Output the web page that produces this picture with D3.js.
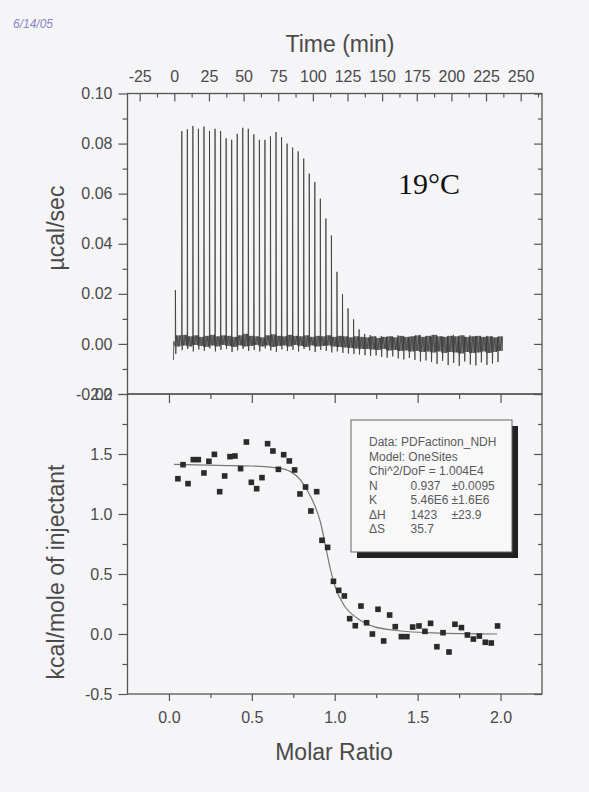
<!DOCTYPE html>
<html>
<head>
<meta charset="utf-8">
<script src="https://cdn.jsdelivr.net/npm/d3@7"></script>
<style>
  body { margin: 0; background: #f5f5f7; }
  svg { display: block; font-family: "Liberation Sans", Arial, sans-serif; }
</style>
</head>
<body>
<div id="chart"></div>
<script>
// ---- raw thermogram (top panel), one entry per injection ----
const injTime = [0.7, 5.3, 9.3, 13.3, 17.3, 21.3, 25.3, 29.3, 33.3, 37.3,
  41.3, 45.3, 49.3, 53.3, 57.3, 61.3, 65.3, 69.3, 73.3, 77.3,
  81.3, 85.3, 89.3, 93.3, 97.3, 101.3, 105.3, 109.3, 113.3, 117.3,
  121.3, 125.3, 129.3, 133.3, 137.3, 141.3, 145.3, 149.3, 153.3, 157.3,
  161.3, 165.3, 169.3, 173.3, 177.3, 181.3, 185.3, 189.3, 193.3, 197.3,
  201.3, 205.3, 209.3, 213.3, 217.3, 221.3, 225.3, 229.3, 233.3];
const peakTop = [0.0215, 0.0850, 0.0857, 0.0870, 0.0859, 0.0868, 0.0850, 0.0859, 0.0850, 0.0821,
  0.0815, 0.0839, 0.0863, 0.0859, 0.0837, 0.0815, 0.0815, 0.0829, 0.0846, 0.0826,
  0.0800, 0.0784, 0.0769, 0.0740, 0.0680, 0.0647, 0.0580, 0.0501, 0.0433, 0.0288,
  0.0199, 0.0142, 0.0098, 0.0058, 0.0040, 0.0035, 0.0030, 0.0032, 0.0028, 0.0030,
  0.0034, 0.0030, 0.0026, 0.0032, 0.0036, 0.0030, 0.0028, 0.0034, 0.0030, 0.0032,
  0.0036, 0.0030, 0.0028, 0.0034, 0.0030, 0.0026, 0.0032, 0.0030, 0.0028];
const dipLow = [-0.0040, -0.0025, -0.0020, -0.0030, -0.0022, -0.0028, -0.0018, -0.0030, -0.0024, -0.0020,
  -0.0032, -0.0026, -0.0020, -0.0028, -0.0024, -0.0030, -0.0018, -0.0026, -0.0032, -0.0022,
  -0.0028, -0.0024, -0.0030, -0.0020, -0.0026, -0.0032, -0.0024, -0.0028, -0.0034, -0.0030,
  -0.0036, -0.0038, -0.0040, -0.0042, -0.0045, -0.0048, -0.0046, -0.0052, -0.0055, -0.0050,
  -0.0058, -0.0062, -0.0056, -0.0064, -0.0070, -0.0066, -0.0072, -0.0080, -0.0068, -0.0085,
  -0.0076, -0.0088, -0.0070, -0.0082, -0.0086, -0.0074, -0.0084, -0.0078, -0.0072];
const bandHi = [0.0034, 0.0036, 0.0030, 0.0034, 0.0028, 0.0032, 0.0036, 0.0030, 0.0034, 0.0032,
  0.0028, 0.0034, 0.0040, 0.0032, 0.0030, 0.0026, 0.0034, 0.0038, 0.0032, 0.0030,
  0.0036, 0.0032, 0.0030, 0.0034, 0.0028, 0.0032, 0.0030, 0.0034, 0.0028, 0.0032,
  0.0030, 0.0026, 0.0030, 0.0028, 0.0026, 0.0030, 0.0024, 0.0028, 0.0030, 0.0026,
  0.0032, 0.0028, 0.0030, 0.0034, 0.0028, 0.0032, 0.0036, 0.0030, 0.0028, 0.0032,
  0.0030, 0.0034, 0.0028, 0.0030, 0.0032, 0.0028, 0.0030, 0.0026, 0.0030];
const bandLo = [-0.0010, -0.0006, -0.0010, -0.0004, -0.0008, -0.0012, -0.0006, -0.0010, -0.0004, -0.0008,
  -0.0012, -0.0006, -0.0010, -0.0008, -0.0004, -0.0010, -0.0006, -0.0012, -0.0008, -0.0006,
  -0.0010, -0.0004, -0.0008, -0.0012, -0.0006, -0.0010, -0.0008, -0.0006, -0.0010, -0.0012,
  -0.0014, -0.0016, -0.0018, -0.0020, -0.0020, -0.0022, -0.0024, -0.0020, -0.0026, -0.0024,
  -0.0028, -0.0026, -0.0030, -0.0028, -0.0032, -0.0030, -0.0034, -0.0030, -0.0036, -0.0032,
  -0.0034, -0.0038, -0.0032, -0.0036, -0.0034, -0.0030, -0.0036, -0.0032, -0.0028];
const traceStartT = [-0.6, -0.4];
const traceStartV = [-0.0064, 0.0010];

// ---- integrated heats (bottom panel) ----
const molarRatio = [0.054, 0.085, 0.115, 0.147, 0.177, 0.211, 0.241, 0.274, 0.306, 0.336,
  0.368, 0.398, 0.432, 0.467, 0.497, 0.529, 0.561, 0.595, 0.627, 0.660,
  0.692, 0.726, 0.758, 0.790, 0.824, 0.856, 0.891, 0.923, 0.957, 0.992,
  1.024, 1.058, 1.090, 1.124, 1.158, 1.192, 1.227, 1.261, 1.295, 1.331,
  1.365, 1.402, 1.435, 1.470, 1.508, 1.544, 1.578, 1.616, 1.653, 1.689,
  1.725, 1.764, 1.800, 1.836, 1.872, 1.908, 1.944, 1.982];
const heatPerMole = [1.294, 1.411, 1.253, 1.453, 1.453, 1.342, 1.439, 1.497, 1.186, 1.317,
  1.478, 1.483, 1.378, 1.600, 1.264, 1.211, 1.303, 1.586, 1.525, 1.372,
  1.494, 1.442, 1.367, 1.167, 1.225, 1.025, 1.186, 0.781, 0.722, 0.439,
  0.364, 0.317, 0.128, 0.069, 0.233, 0.094, 0.000, 0.206, -0.058, 0.158,
  0.061, -0.022, -0.022, 0.058, 0.067, 0.022, 0.089, -0.106, 0.011, -0.150,
  0.081, 0.053, -0.008, -0.042, -0.017, -0.069, -0.075, 0.067];
// fitted curve
const fitRatio = [0.03, 0.30, 0.50, 0.65, 0.734, 0.794, 0.855, 0.915, 0.945, 0.975, 1.005, 1.055, 1.136, 1.236, 1.40, 1.60, 1.98];
const fitHeat = [1.414, 1.405, 1.400, 1.385, 1.353, 1.283, 1.144, 0.925, 0.730, 0.533, 0.383, 0.242, 0.131, 0.061, 0.025, 0.010, 0.000];

// ---- ticks and labels ----
const timeTicks = [-25, 0, 25, 50, 75, 100, 125, 150, 175, 200, 225, 250];
const rateTicks = [-0.02, 0.00, 0.02, 0.04, 0.06, 0.08, 0.10];
const heatTicks = [-0.5, 0.0, 0.5, 1.0, 1.5, 2.0];
const ratioTicks = [0.0, 0.5, 1.0, 1.5, 2.0];
const fitHeader = ["Data: PDFactinon_NDH", "Model: OneSites", "Chi^2/DoF = 1.004E4"];
const fitParam = ["N", "K", "\u0394H", "\u0394S"];
const fitValue = ["0.937", "5.46E6", "1423", "35.7"];
const fitError = ["\u00b10.0095", "\u00b11.6E6", "\u00b123.9", ""];

const W = 589, H = 792;
const axisCol = "#555", textCol = "#4a4a4a";

const svg = d3.select("#chart").append("svg")
    .attr("width", W).attr("height", H);

svg.append("rect").attr("width", W).attr("height", H).attr("fill", "#f5f5f7");

const xTime = d3.scaleLinear().domain([-33.8, 265.4]).range([127.5, 542]);
const yRate = d3.scaleLinear().domain([-0.02, 0.10]).range([394, 93.5]);
const xRatio = d3.scaleLinear().domain([-0.25, 2.25]).range([127.5, 542]);
const yHeat = d3.scaleLinear().domain([-0.5, 2.0]).range([694, 394]);

// minor ticks halfway between majors
const mids = arr => arr.slice(1).map((d, i) => (d + arr[i]) / 2);

function axisGroup(axis, tx, ty, labels) {
    let g = svg.append("g")
        .attr("transform", `translate(${tx},${ty})`)
        .call(axis);
    g.select(".domain").remove();
    g.selectAll("line").attr("stroke", axisCol).attr("stroke-width", 1.2);
    g.selectAll("text")
        .attr("fill", textCol)
        .style("font-size", "16px")
        .style("font-family", "'Liberation Sans', Arial, sans-serif");
    return g;
}

// ---------- top panel ----------
let tLine = d3.line().x(d => xTime(d[0])).y(d => yRate(d[1]));
let trace = traceStartT.map((t, i) => [t, traceStartV[i]]);
injTime.forEach((t, i) => {
    trace.push([t, bandLo[i]]);
    trace.push([t + 0.1, peakTop[i]]);
    trace.push([t + 0.35, dipLow[i]]);
    trace.push([t + 0.8, bandHi[i]]);
    trace.push([t + 1.3, bandLo[i]]);
    trace.push([t + 1.8, bandHi[i]]);
    trace.push([t + 2.3, bandLo[i]]);
    trace.push([t + 2.8, bandHi[i]]);
    trace.push([t + 3.3, bandLo[i]]);
    trace.push([t + 3.7, bandHi[i]]);
});

svg.append("path")
    .datum(trace)
    .attr("d", tLine)
    .attr("fill", "none")
    .attr("stroke", "#3a3a3a")
    .attr("stroke-width", 0.8);

// time axis on top, ticks pointing in
axisGroup(d3.axisTop(xTime).tickValues(timeTicks).tickSizeInner(-8).tickSizeOuter(0)
    .tickPadding(12).tickFormat(d => String(d)), 0, yRate(0.10));
axisGroup(d3.axisTop(xTime).tickValues(mids(timeTicks).concat([262.5])).tickSizeInner(-4)
    .tickSizeOuter(0).tickFormat(""), 0, yRate(0.10));

axisGroup(d3.axisLeft(yRate).tickValues(rateTicks).tickSizeInner(9).tickSizeOuter(0)
    .tickPadding(6).tickFormat(d => d.toFixed(2)), xTime.range()[0], 0);
axisGroup(d3.axisLeft(yRate).tickValues(mids(rateTicks)).tickSizeInner(5).tickSizeOuter(0)
    .tickFormat(""), xTime.range()[0], 0);
axisGroup(d3.axisRight(yRate).tickValues(rateTicks).tickSizeInner(-8).tickSizeOuter(0)
    .tickFormat(""), xTime.range()[1], 0);
axisGroup(d3.axisRight(yRate).tickValues(mids(rateTicks)).tickSizeInner(-4).tickSizeOuter(0)
    .tickFormat(""), xTime.range()[1], 0);

// ---------- bottom panel ----------
axisGroup(d3.axisLeft(yHeat).tickValues(heatTicks).tickSizeInner(9).tickSizeOuter(0)
    .tickPadding(6).tickFormat(d => d.toFixed(1)), xRatio.range()[0], 0);
axisGroup(d3.axisLeft(yHeat).tickValues(mids(heatTicks)).tickSizeInner(5).tickSizeOuter(0)
    .tickFormat(""), xRatio.range()[0], 0);
axisGroup(d3.axisRight(yHeat).tickValues(heatTicks).tickSizeInner(-8).tickSizeOuter(0)
    .tickFormat(""), xRatio.range()[1], 0);
axisGroup(d3.axisRight(yHeat).tickValues(mids(heatTicks)).tickSizeInner(-4).tickSizeOuter(0)
    .tickFormat(""), xRatio.range()[1], 0);

axisGroup(d3.axisBottom(xRatio).tickValues(ratioTicks).tickSizeInner(7).tickSizeOuter(0)
    .tickPadding(11).tickFormat(d => d.toFixed(1)), 0, yHeat(-0.5));
axisGroup(d3.axisBottom(xRatio).tickValues(mids(ratioTicks)).tickSizeInner(4).tickSizeOuter(0)
    .tickFormat(""), 0, yHeat(-0.5));
// ticks hanging from the panel divider
axisGroup(d3.axisTop(xRatio).tickValues(ratioTicks).tickSizeInner(-9).tickSizeOuter(0)
    .tickFormat(""), 0, yHeat(2.0));
axisGroup(d3.axisTop(xRatio).tickValues(mids(ratioTicks)).tickSizeInner(-5).tickSizeOuter(0)
    .tickFormat(""), 0, yHeat(2.0));

// fitted curve
svg.append("path")
    .datum(fitRatio.map((r, i) => [r, fitHeat[i]]))
    .attr("d", d3.line().x(d => xRatio(d[0])).y(d => yHeat(d[1])).curve(d3.curveMonotoneX))
    .attr("fill", "none")
    .attr("stroke", "#777")
    .attr("stroke-width", 1.2);

// data squares
svg.append("g").selectAll("rect")
    .data(molarRatio.map((r, i) => ({r: r, h: heatPerMole[i]})))
    .enter().append("rect")
    .attr("x", d => xRatio(d.r) - 2.8)
    .attr("y", d => yHeat(d.h) - 2.8)
    .attr("width", 5.6)
    .attr("height", 5.6)
    .attr("fill", "#2a2a2a");

// frames
[[yRate(0.10), yRate(-0.02)], [yHeat(2.0), yHeat(-0.5)]].forEach(p => {
    svg.append("rect")
        .attr("x", xTime.range()[0]).attr("y", p[0])
        .attr("width", xTime.range()[1] - xTime.range()[0])
        .attr("height", p[1] - p[0])
        .attr("fill", "none")
        .attr("stroke", axisCol)
        .attr("stroke-width", 1.3);
});

// fit results box
let box = {x: 351, y: 420, w: 161, h: 132};
svg.append("rect").attr("x", box.x + 6).attr("y", box.y + 6)
    .attr("width", box.w).attr("height", box.h).attr("fill", "#222");
svg.append("rect").attr("x", box.x).attr("y", box.y)
    .attr("width", box.w).attr("height", box.h)
    .attr("fill", "#f8f8f9").attr("stroke", "#666").attr("stroke-width", 1);

let legend = svg.append("g").style("font-size", "12px").attr("fill", "#5a5a5a");
fitHeader.forEach((s, i) => {
    legend.append("text").attr("x", 369).attr("y", 446 + i * 14.5).text(s);
});
fitParam.forEach((s, i) => {
    let y = 446 + (i + 3) * 14.5;
    legend.append("text").attr("x", 369).attr("y", y).text(s);
    legend.append("text").attr("x", 410.5).attr("y", y).text(fitValue[i]);
    legend.append("text").attr("x", 451.5).attr("y", y).text(fitError[i]);
});

// titles
svg.append("text")
    .attr("x", 340).attr("y", 52)
    .attr("text-anchor", "middle")
    .attr("fill", textCol)
    .style("font-size", "23px")
    .text("Time (min)");

svg.append("text")
    .attr("x", 334).attr("y", 760)
    .attr("text-anchor", "middle")
    .attr("fill", textCol)
    .style("font-size", "23px")
    .text("Molar Ratio");

svg.append("text")
    .attr("transform", "translate(64,228) rotate(-90)")
    .attr("text-anchor", "middle")
    .attr("fill", textCol)
    .style("font-size", "23px")
    .text("\u00b5cal/sec");

svg.append("text")
    .attr("transform", "translate(64,572) rotate(-90)")
    .attr("text-anchor", "middle")
    .attr("fill", textCol)
    .style("font-size", "23px")
    .text("kcal/mole of injectant");

svg.append("text")
    .attr("x", 398).attr("y", 194)
    .attr("fill", "#111")
    .style("font-family", "'Liberation Serif', 'Times New Roman', serif")
    .style("font-size", "30px")
    .text("19\u00b0C");

// handwritten date in the corner
svg.append("text")
    .attr("x", 13).attr("y", 28)
    .attr("fill", "#8a86c8")
    .style("font-size", "12px")
    .style("font-style", "italic")
    .text("6/14/05");
</script>
</body>
</html>
